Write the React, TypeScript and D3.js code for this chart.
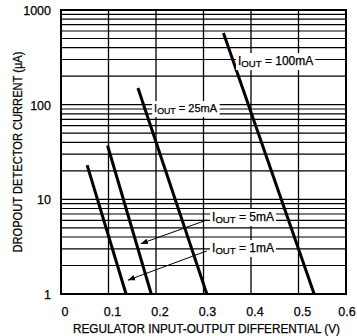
import React, { useEffect, useRef } from "react";
import * as d3 from "d3";

const W = 357;
const H = 336;

const xTicks = [0, 0.1, 0.2, 0.3, 0.4, 0.5, 0.6];
const xTickLabels = ["0", "0.1", "0.2", "0.3", "0.4", "0.5", "0.6"];
const yTicks = [1, 10, 100, 1000];
const yTickLabels = ["1", "10", "100", "1000"];

// Four curves (straight on the semi-log grid): start and end points
const seriesNames = ["1mA", "5mA", "25mA", "100mA"];
const seriesV = [
  [0.055, 0.137],
  [0.098, 0.19],
  [0.162, 0.307],
  [0.342, 0.533],
];
const seriesI = [
  [23, 1],
  [37, 1],
  [150, 1],
  [570, 1],
];

// Annotation labels (data coordinates of text start / baseline)
const labelNames = ["100mA", "25mA", "5mA", "1mA"];
const labelV = [0.3726, 0.196, 0.318, 0.318];
const labelI = [262, 83.6, 5.9, 2.78];
const labelSize = [12, 11, 12, 12];

// Arrows from labels to curves
const arrowFromV = [0.307, 0.307];
const arrowFromI = [6.05, 2.85];
const arrowToV = [0.168, 0.141];
const arrowToI = [3.4, 1.4];

const FONT = "'Liberation Sans', Arial, Helvetica, sans-serif";

export default function App() {
  const ref = useRef<SVGSVGElement | null>(null);

  useEffect(() => {
    const svg = d3.select(ref.current);
    svg.selectAll("*").remove();

    const x = d3.scaleLinear().domain([0, 0.6]).range([61, 346]);
    const y = d3.scaleLog().domain([1, 1000]).range([294, 10]);

    svg.append("rect").attr("width", W).attr("height", H).attr("fill", "#fff");

    const defs = svg.append("defs");
    defs
      .append("marker")
      .attr("id", "arrowhead")
      .attr("viewBox", "0 0 10 10")
      .attr("refX", 10)
      .attr("refY", 5)
      .attr("markerWidth", 7)
      .attr("markerHeight", 7)
      .attr("markerUnits", "userSpaceOnUse")
      .attr("orient", "auto")
      .append("path")
      .attr("d", "M0,1 L10,5 L0,9 Z")
      .attr("fill", "#000");

    const grid = svg.append("g").attr("stroke", "#000");
    // horizontal log grid
    const hVals: number[] = [];
    for (let d = 1; d < 1000; d *= 10) {
      for (let k = 2; k <= 9; k++) hVals.push(d * k);
      if (d > 1) hVals.push(d);
    }
    grid
      .selectAll("line.h")
      .data(hVals)
      .join("line")
      .attr("class", "h")
      .attr("x1", x(0))
      .attr("x2", x(0.6))
      .attr("y1", (d) => y(d))
      .attr("y2", (d) => y(d))
      .attr("stroke-width", 1.2);
    // vertical grid
    grid
      .selectAll("line.v")
      .data(xTicks.slice(1, -1))
      .join("line")
      .attr("class", "v")
      .attr("x1", (d) => x(d))
      .attr("x2", (d) => x(d))
      .attr("y1", y(1000))
      .attr("y2", y(1))
      .attr("stroke-width", 1.3);

    // frame
    svg
      .append("rect")
      .attr("x", x(0))
      .attr("y", y(1000))
      .attr("width", x(0.6) - x(0))
      .attr("height", y(1) - y(1000))
      .attr("fill", "none")
      .attr("stroke", "#000")
      .attr("stroke-width", 2);

    // curves
    const line = d3
      .line<[number, number]>()
      .x((d) => x(d[0]))
      .y((d) => y(d[1]));
    seriesNames.forEach((_, i) => {
      const pts: [number, number][] = seriesV[i].map((v, j) => [v, seriesI[i][j]]);
      svg
        .append("path")
        .attr("d", line(pts))
        .attr("fill", "none")
        .attr("stroke", "#000")
        .attr("stroke-width", 3);
    });

    // labels
    labelNames.forEach((name, i) => {
      const g = svg.append("g");
      const t = g
        .append("text")
        .attr("x", x(labelV[i]))
        .attr("y", y(labelI[i]))
        .attr("font-family", FONT)
        .attr("font-size", labelSize[i])
        .attr("fill", "#000")
        .attr("stroke", "#000")
        .attr("stroke-width", 0.25);
      t.append("tspan").text("I");
      t.append("tspan")
        .attr("dy", 2)
        .attr("font-size", labelSize[i] * 0.8)
        .text("OUT");
      t.append("tspan").attr("dy", -2).text(" = " + name);
      const bb = (t.node() as SVGTextElement).getBBox();
      g.insert("rect", "text")
        .attr("x", bb.x - 2)
        .attr("y", bb.y - 1)
        .attr("width", bb.width + 4)
        .attr("height", bb.height + 2)
        .attr("fill", "#fff");
    });

    // arrows
    arrowFromV.forEach((_, i) => {
      svg
        .append("line")
        .attr("x1", x(arrowFromV[i]))
        .attr("y1", y(arrowFromI[i]))
        .attr("x2", x(arrowToV[i]))
        .attr("y2", y(arrowToI[i]))
        .attr("stroke", "#000")
        .attr("stroke-width", 1)
        .attr("marker-end", "url(#arrowhead)");
    });

    // y tick labels
    svg
      .append("g")
      .selectAll("text")
      .data(yTicks)
      .join("text")
      .attr("x", 51)
      .attr("y", (d) => y(d) + 5)
      .attr("text-anchor", "end")
      .attr("font-family", FONT)
      .attr("font-size", 12.5)
      .attr("stroke", "#000")
      .attr("stroke-width", 0.25)
      .text((_, i) => yTickLabels[i]);

    // x tick labels
    svg
      .append("g")
      .selectAll("text")
      .data(xTicks)
      .join("text")
      .attr("x", (d) => Math.min(x(d) + 4, W - 10))
      .attr("y", 316)
      .attr("text-anchor", "middle")
      .attr("font-family", FONT)
      .attr("font-size", 12.5)
      .attr("stroke", "#000")
      .attr("stroke-width", 0.25)
      .text((_, i) => xTickLabels[i]);

    // axis titles
    svg
      .append("text")
      .attr("x", 206.5)
      .attr("y", 333)
      .attr("text-anchor", "middle")
      .attr("font-family", FONT)
      .attr("font-size", 12.5)
      .attr("stroke", "#000")
      .attr("stroke-width", 0.25)
      .attr("textLength", 267)
      .attr("lengthAdjust", "spacingAndGlyphs")
      .text("REGULATOR INPUT-OUTPUT DIFFERENTIAL (V)");

    svg
      .append("text")
      .attr("transform", "translate(22,152) rotate(-90)")
      .attr("text-anchor", "middle")
      .attr("font-family", FONT)
      .attr("font-size", 12)
      .attr("stroke", "#000")
      .attr("stroke-width", 0.25)
      .attr("textLength", 201)
      .attr("lengthAdjust", "spacingAndGlyphs")
      .text("DROPOUT DETECTOR CURRENT (\u03BCA)");
  }, []);

  return (
    <svg
      ref={ref}
      width={W}
      height={H}
      style={{ position: "absolute", left: 0, top: 0, display: "block" }}
    />
  );
}
